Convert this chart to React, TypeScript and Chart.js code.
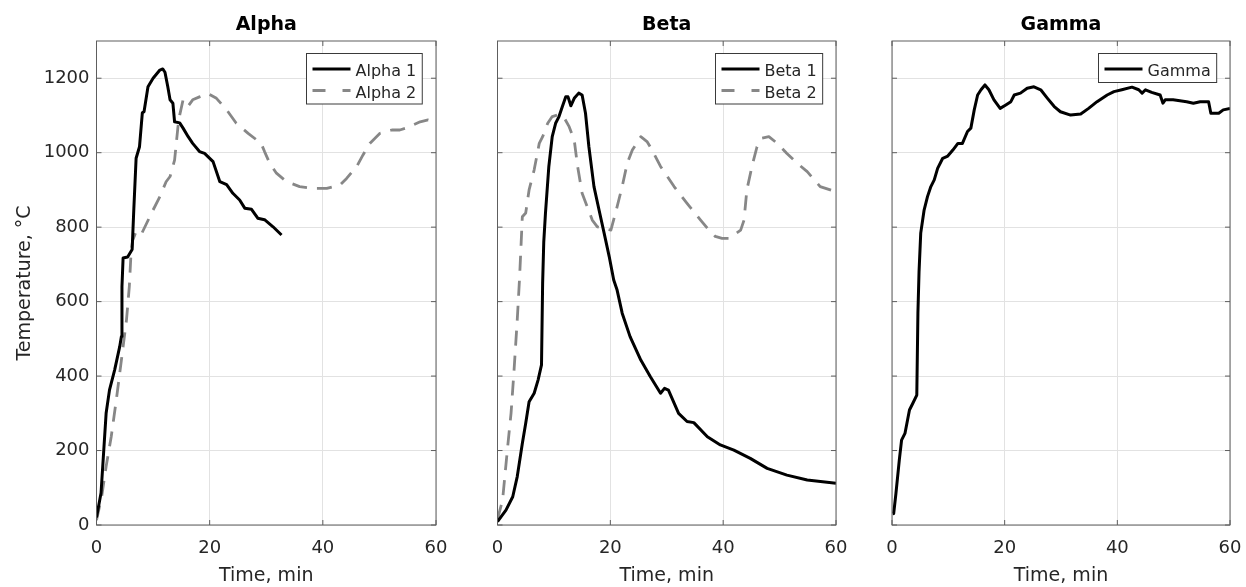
import React, { useEffect, useRef } from 'react';
import { Chart, registerables } from 'chart.js';

Chart.register(...registerables);

const W = 1246;
const H = 587;
const CW = 1290; // canvas width (wider than page; clipped by wrapper) so the last x label never squeezes the plot
const FONT = "'DejaVu Sans', 'Liberation Sans', sans-serif";
const TXT = '#262626';
const GRID = '#e2e2e2';
const FRAME = '#5e5e5e';

// ---- data ----
const xTickValues = [0, 20, 40, 60];
const yTickValues = [0, 200, 400, 600, 800, 1000, 1200];
const panelTitles = ['Alpha', 'Beta', 'Gamma'];

const alpha1Time = [0, 0.8, 1.7, 2.3, 3.2, 4.1, 4.4, 4.5, 4.7, 5.5, 6.3, 6.6, 7.0, 7.6, 8.1, 8.4, 9.1, 10.0, 11.2, 11.7, 12.1, 12.6, 13.0, 13.5, 13.8, 14.7, 15.3, 16.2, 17.0, 18.2, 19.1, 20.6, 21.8, 23.0, 24.1, 25.3, 26.2, 27.4, 28.5, 29.7, 31.2, 32.7];
const alpha1Temp = [20, 86, 300, 363, 416, 479, 506, 640, 717, 720, 740, 850, 985, 1016, 1107, 1110, 1177, 1200, 1222, 1225, 1216, 1177, 1142, 1133, 1083, 1080, 1066, 1043, 1025, 1003, 998, 976, 922, 914, 891, 873, 851, 848, 824, 820, 801, 779];

const alpha2Time = [0, 0.9, 1.7, 2.6, 3.5, 4.4, 5.3, 5.8, 6.1, 6.4, 7.0, 7.9, 9.7, 11.2, 12.3, 13.0, 13.8, 14.4, 14.7, 15.3, 16.2, 17.0, 18.2, 19.7, 21.2, 23.0, 24.7, 26.8, 29.1, 29.7, 30.6, 31.8, 33.6, 35.9, 38.3, 40.7, 43.0, 44.2, 46.0, 47.1, 48.3, 50.1, 52.2, 53.6, 54.7, 57.2, 58.6, 60];
const alpha2Temp = [13, 75, 157, 237, 336, 443, 551, 640, 730, 765, 788, 780, 837, 882, 922, 936, 980, 1070, 1101, 1142, 1125, 1142, 1150, 1159, 1146, 1115, 1079, 1052, 1025, 1003, 972, 945, 922, 909, 904, 904, 913, 931, 963, 994, 1025, 1052, 1061, 1061, 1066, 1083, 1088, 1079];

const beta1Time = [0, 1.5, 2.7, 3.5, 4.4, 5.0, 5.6, 6.5, 7.2, 7.8, 8.0, 8.2, 8.5, 9.1, 9.7, 10.3, 10.9, 11.5, 12.1, 12.5, 13.0, 13.6, 14.4, 15.0, 15.6, 16.2, 17.1, 18.0, 18.9, 19.8, 20.6, 21.2, 22.1, 23.5, 25.4, 27.1, 28.9, 29.6, 30.3, 32.1, 33.6, 34.8, 37.2, 39.5, 41.9, 44.8, 47.8, 51.3, 54.9, 60];
const beta1Temp = [9, 40, 76, 130, 219, 273, 331, 354, 390, 430, 650, 760, 837, 963, 1043, 1079, 1097, 1124, 1150, 1150, 1126, 1146, 1160, 1155, 1106, 1016, 909, 846, 784, 721, 658, 631, 569, 506, 443, 398, 354, 367, 362, 300, 278, 275, 237, 215, 201, 179, 152, 134, 121, 112];

const beta2Time = [0, 0.9, 1.8, 2.4, 2.9, 3.5, 3.9, 4.2, 4.4, 5.0, 5.6, 6.5, 7.4, 8.0, 8.9, 9.7, 10.6, 11.7, 12.7, 13.6, 14.2, 15.0, 15.9, 16.8, 17.7, 18.9, 20.1, 20.9, 22.1, 23.0, 23.9, 25.4, 26.5, 27.4, 28.9, 31.3, 33.6, 36.0, 37.2, 38.6, 39.8, 41.0, 43.1, 43.7, 44.2, 45.1, 46.0, 46.9, 48.1, 49.6, 51.3, 53.1, 54.9, 57.2, 60];
const beta2Temp = [15, 67, 210, 300, 408, 551, 660, 760, 828, 838, 900, 954, 1025, 1043, 1079, 1097, 1101, 1097, 1070, 1034, 963, 891, 855, 819, 801, 797, 792, 837, 909, 972, 1007, 1043, 1030, 1007, 963, 909, 864, 819, 797, 775, 770, 770, 792, 819, 900, 963, 1016, 1039, 1043, 1025, 998, 972, 949, 909, 895];

const gammaTime = [0.1, 0.3, 0.7, 1.3, 1.7, 2.3, 3.1, 3.7, 4.4, 4.6, 4.8, 5.1, 5.7, 6.3, 6.9, 7.5, 8.1, 9.0, 9.9, 10.8, 11.7, 12.5, 13.4, 14.0, 14.6, 15.2, 15.8, 16.5, 17.2, 18.1, 19.2, 20.2, 21.1, 21.7, 22.8, 24.0, 25.2, 26.4, 27.6, 28.8, 29.9, 31.7, 33.5, 34.9, 36.4, 38.2, 39.4, 40.8, 42.6, 43.8, 44.4, 45.0, 46.1, 47.6, 48.1, 48.5, 49.9, 52.3, 53.5, 54.7, 56.2, 56.6, 58.0, 58.8, 60];
const gammaTemp = [30, 31, 85, 175, 228, 246, 309, 327, 349, 569, 680, 784, 846, 882, 909, 927, 958, 985, 991, 1007, 1025, 1025, 1057, 1066, 1115, 1155, 1169, 1182, 1169, 1142, 1119, 1128, 1137, 1155, 1160, 1173, 1177, 1169, 1146, 1124, 1110, 1101, 1104, 1119, 1137, 1155, 1164, 1169, 1176, 1169, 1160, 1169, 1162, 1155, 1133, 1142, 1142, 1137, 1133, 1137, 1137, 1106, 1106, 1115, 1119];

// ---- layout / style ----
type Series = { label: string; t: number[]; v: number[]; color: string; dash: number[]; legendDash: number[]; width: number };
type Panel = { title: string; left: number; right: number; yAxis: boolean; series: Series[] };

const solid = (label: string, t: number[], v: number[]): Series => ({ label, t, v, color: '#000000', dash: [], legendDash: [], width: 3 });
const dashed = (label: string, t: number[], v: number[]): Series => ({ label, t, v, color: '#878787', dash: [15, 10], legendDash: [13, 17], width: 2.8 });

const panels: Panel[] = [
  { title: panelTitles[0], left: 96.5, right: 436, yAxis: true, series: [solid('Alpha 1', alpha1Time, alpha1Temp), dashed('Alpha 2', alpha2Time, alpha2Temp)] },
  { title: panelTitles[1], left: 497.5, right: 836, yAxis: false, series: [solid('Beta 1', beta1Time, beta1Temp), dashed('Beta 2', beta2Time, beta2Temp)] },
  { title: panelTitles[2], left: 892, right: 1230, yAxis: false, series: [solid('Gamma', gammaTime, gammaTemp)] },
];

function makeDecor(p: Panel) {
  return {
    id: 'decor',
    afterDatasetsDraw(chart: any) {
      const { ctx, chartArea: a } = chart;
      const xs = chart.scales.x;
      const ys = chart.scales.y;
      ctx.save();
      // frame
      ctx.strokeStyle = FRAME;
      ctx.lineWidth = 1;
      ctx.setLineDash([]);
      ctx.strokeRect(a.left, a.top, a.right - a.left, a.bottom - a.top);
      // inward ticks
      ctx.beginPath();
      for (const v of xTickValues) {
        const px = xs.getPixelForValue(v);
        ctx.moveTo(px, a.bottom); ctx.lineTo(px, a.bottom - 5);
        ctx.moveTo(px, a.top); ctx.lineTo(px, a.top + 5);
      }
      for (const v of yTickValues) {
        const py = ys.getPixelForValue(v);
        ctx.moveTo(a.left, py); ctx.lineTo(a.left + 5, py);
        ctx.moveTo(a.right, py); ctx.lineTo(a.right - 5, py);
      }
      ctx.stroke();
      // title
      ctx.font = `bold 19px ${FONT}`;
      ctx.fillStyle = '#000';
      ctx.textAlign = 'center';
      ctx.textBaseline = 'alphabetic';
      ctx.fillText(p.title, (a.left + a.right) / 2, 29.5);
      // legend
      ctx.font = `16px ${FONT}`;
      const textW = Math.max(...p.series.map((s) => ctx.measureText(s.label).width));
      const n = p.series.length;
      const boxW = 6 + 38 + 5 + textW + 6;
      const rowH = 21.5;
      const boxH = 15.5 + rowH * (n - 1) + 13.5;
      const bx = Math.round(a.right - 14 - boxW) + 0.5;
      const by = Math.round(a.top + 12) + 0.5;
      ctx.fillStyle = '#ffffff';
      ctx.fillRect(bx, by, boxW, boxH);
      ctx.strokeStyle = '#3a3a3a';
      ctx.lineWidth = 1;
      ctx.strokeRect(bx, by, boxW, boxH);
      p.series.forEach((s, i) => {
        const y = by + 15.5 + i * rowH;
        ctx.beginPath();
        ctx.strokeStyle = s.color;
        ctx.lineWidth = s.width;
        ctx.setLineDash(s.legendDash);
        ctx.moveTo(bx + 6, y);
        ctx.lineTo(bx + 44, y);
        ctx.stroke();
        ctx.setLineDash([]);
        ctx.fillStyle = TXT;
        ctx.textAlign = 'left';
        ctx.textBaseline = 'alphabetic';
        ctx.fillText(s.label, bx + 49, y + 7);
      });
      ctx.restore();
    },
  };
}

function buildConfig(p: Panel): any {
  return {
    type: 'line',
    data: {
      datasets: p.series.map((s) => ({
        label: s.label,
        data: s.t.map((t, k) => ({ x: t, y: s.v[k] })),
        borderColor: s.color,
        backgroundColor: s.color,
        borderWidth: s.width,
        borderDash: s.dash,
        borderJoinStyle: 'round',
        borderCapStyle: 'butt',
        pointRadius: 0,
        tension: 0,
        fill: false,
      })),
    },
    options: {
      responsive: false,
      animation: false,
      devicePixelRatio: 1,
      events: [],
      layout: { padding: { left: p.yAxis ? 0 : p.left, right: CW - p.right, top: 41, bottom: 0 } },
      plugins: { legend: { display: false }, title: { display: false }, tooltip: { enabled: false } },
      scales: {
        x: {
          type: 'linear',
          min: 0,
          max: 60,
          afterBuildTicks: (s: any) => { s.ticks = xTickValues.map((v) => ({ value: v })); },
          afterFit: (s: any) => { s.height = H - 525; },
          grid: { color: GRID, drawTicks: false, lineWidth: 1 },
          border: { display: false },
          ticks: { font: { family: FONT, size: 18 }, color: TXT, padding: 13, maxRotation: 0, autoSkip: false, callback: (v: any) => String(v) },
          title: { display: true, text: 'Time, min', font: { family: FONT, size: 19 }, color: TXT, padding: { top: 0, bottom: 0 } },
        },
        y: {
          type: 'linear',
          min: 0,
          max: 1300,
          afterBuildTicks: (s: any) => { s.ticks = yTickValues.map((v) => ({ value: v })); },
          afterFit: (s: any) => { s.width = p.yAxis ? p.left : 0; },
          grid: { color: GRID, drawTicks: false, lineWidth: 1 },
          border: { display: false },
          ticks: { display: p.yAxis, font: { family: FONT, size: 18 }, color: TXT, padding: 7, autoSkip: false, callback: (v: any) => String(v) },
          title: { display: p.yAxis, text: 'Temperature, °C', font: { family: FONT, size: 19 }, color: TXT, padding: { top: 14, bottom: 0 } },
        },
      },
    },
    plugins: [makeDecor(p)],
  };
}

export default function App() {
  const r0 = useRef<HTMLCanvasElement>(null);
  const r1 = useRef<HTMLCanvasElement>(null);
  const r2 = useRef<HTMLCanvasElement>(null);
  const refs = [r0, r1, r2];

  useEffect(() => {
    const charts = panels.map((p, i) => new Chart(refs[i].current as HTMLCanvasElement, buildConfig(p)));
    return () => charts.forEach((c) => c.destroy());
  }, []);

  return (
    <div style={{ position: 'absolute', left: 0, top: 0, width: W, height: H, background: '#ffffff', overflow: 'hidden' }}>
      {panels.map((p, i) => (
        <canvas key={p.title} ref={refs[i]} width={CW} height={H} style={{ position: 'absolute', left: 0, top: 0, width: CW, height: H }} />
      ))}
    </div>
  );
}
